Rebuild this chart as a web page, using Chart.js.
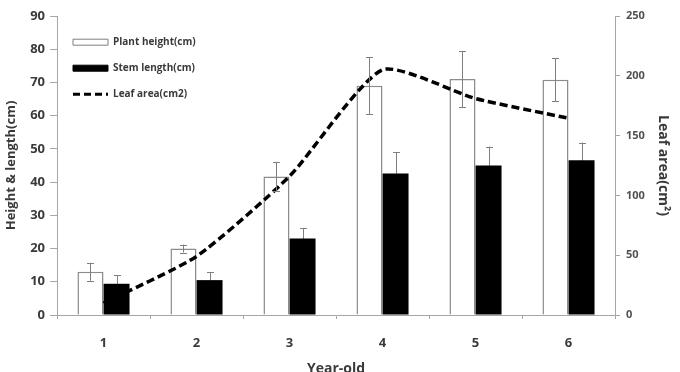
<!DOCTYPE html>
<html>
<head>
<meta charset="utf-8">
<script src="https://cdn.jsdelivr.net/npm/chart.js@4"></script>
<style>
  body { margin: 0; background: #fff; }
  #wrap { width: 680px; height: 372px; }
</style>
</head>
<body>
<div id="wrap"><canvas id="chart" width="680" height="372"></canvas></div>
<script>
const years = ['1', '2', '3', '4', '5', '6'];

const plantHeight = [13, 20, 41.7, 69, 71, 70.8];
const plantHeightErr = [2.7, 1.2, 4.4, 8.6, 8.5, 6.5];

const stemLength = [9.4, 10.5, 23, 42.6, 45, 46.6];
const stemLengthErr = [2.6, 2.3, 3.2, 6.4, 5.7, 5.3];

const leafArea = [10, 49, 116, 205, 181, 164.5];

const leftTicks = [0, 10, 20, 30, 40, 50, 60, 70, 80, 90];
const rightTicks = [0, 50, 100, 150, 200, 250];

const greyLine = '#a6a6a6';
const textColor = '#3a3a3a';
const fontFamily = "'Open Sans', 'Noto Sans', sans-serif";

// error bars: stem ones go behind the black bars, plant ones on top
function drawErrors(chart, dsIndex, errs) {
    const meta = chart.getDatasetMeta(dsIndex);
    const yScale = chart.scales.y;
    const ctx = chart.ctx;
    ctx.save();
    ctx.strokeStyle = '#7f7f7f';
    ctx.lineWidth = 1;
    meta.data.forEach((bar, i) => {
        const v = chart.data.datasets[dsIndex].data[i];
        const top = yScale.getPixelForValue(v + errs[i]);
        const bot = yScale.getPixelForValue(v - errs[i]);
        const x = Math.round(bar.x) + 0.5;
        ctx.beginPath();
        ctx.moveTo(x, top);
        ctx.lineTo(x, bot);
        ctx.moveTo(x - 3.5, Math.round(top) + 0.5);
        ctx.lineTo(x + 3.5, Math.round(top) + 0.5);
        ctx.moveTo(x - 3.5, Math.round(bot) + 0.5);
        ctx.lineTo(x + 3.5, Math.round(bot) + 0.5);
        ctx.stroke();
    });
    ctx.restore();
}

const errorBars = {
    id: 'errorBars',
    beforeDatasetsDraw(chart) {
        drawErrors(chart, 1, stemLengthErr);
    },
    afterDatasetsDraw(chart) {
        drawErrors(chart, 0, plantHeightErr);
    }
};

new Chart(document.getElementById('chart'), {
    type: 'bar',
    data: {
        labels: years,
        datasets: [
            {
                label: 'Plant height(cm)',
                data: plantHeight,
                backgroundColor: '#ffffff',
                borderColor: '#8c8c8c',
                borderWidth: 1.5,
                borderSkipped: 'bottom',
                categoryPercentage: 0.56,
                barPercentage: 1.0,
                yAxisID: 'y',
                order: 1
            },
            {
                label: 'Stem length(cm)',
                data: stemLength,
                backgroundColor: '#000000',
                borderColor: '#000000',
                borderWidth: 0,
                categoryPercentage: 0.56,
                barPercentage: 1.0,
                yAxisID: 'y',
                order: 1
            },
            {
                type: 'line',
                label: 'Leaf area(cm2)',
                data: leafArea,
                borderColor: '#000000',
                borderWidth: 3.5,
                borderDash: [8, 4],
                tension: 0.2,
                pointRadius: 0,
                fill: false,
                yAxisID: 'y2',
                order: 0
            }
        ]
    },
    options: {
        responsive: false,
        animation: false,
        layout: {
            padding: { top: 16, left: 0, right: 0, bottom: 0 }
        },
        plugins: {
            tooltip: { enabled: false },
            legend: {
                position: 'chartArea',
                align: 'start',
                title: {
                    display: true,
                    text: ' ',
                    font: { size: 1 },
                    padding: { top: 19, bottom: 1 }
                },
                labels: {
                    usePointStyle: true,
                    pointStyleWidth: 35,
                    boxHeight: 6,
                    padding: 16,
                    color: textColor,
                    font: { family: fontFamily, size: 10, weight: 'bold' },
                    generateLabels: function () {
                        return [
                            { text: 'Plant height(cm)', pointStyle: 'rect', fillStyle: '#ffffff', strokeStyle: '#7f7f7f', lineWidth: 1, fontColor: textColor },
                            { text: 'Stem length(cm)', pointStyle: 'rect', fillStyle: '#000000', strokeStyle: '#000000', lineWidth: 1, fontColor: textColor },
                            { text: 'Leaf area(cm2)', pointStyle: 'line', fillStyle: '#000000', strokeStyle: '#000000', lineWidth: 3, lineDash: [7, 4], fontColor: textColor }
                        ];
                    }
                }
            }
        },
        scales: {
            x: {
                offset: true,
                afterFit: function (s) { s.height = 57; },
                border: { display: true, color: greyLine, width: 1 },
                grid: { display: true, offset: true, drawOnChartArea: false, tickLength: 4, color: greyLine },
                ticks: {
                    padding: 16,
                    color: textColor,
                    font: { family: fontFamily, size: 13, weight: 'bold' }
                },
                title: {
                    display: true,
                    text: 'Year-old',
                    color: textColor,
                    padding: { top: 0, bottom: -5 },
                    font: { family: fontFamily, size: 14, weight: 'bold' }
                }
            },
            y: {
                position: 'left',
                min: 0,
                max: 90,
                afterFit: function (s) { s.width = 57; },
                afterBuildTicks: function (s) { s.ticks = leftTicks.map(v => ({ value: v })); },
                border: { display: true, color: greyLine, width: 1 },
                grid: { drawOnChartArea: false, tickLength: 7, color: greyLine },
                ticks: {
                    padding: 5,
                    color: textColor,
                    font: { family: fontFamily, size: 13, weight: 'bold' }
                },
                title: {
                    display: true,
                    text: 'Height & length(cm)',
                    color: textColor,
                    padding: { top: 3, bottom: 0 },
                    font: { family: fontFamily, size: 13, weight: 'bold' }
                }
            },
            y2: {
                position: 'right',
                min: 0,
                max: 250,
                afterFit: function (s) { s.width = 65; },
                afterBuildTicks: function (s) { s.ticks = rightTicks.map(v => ({ value: v })); },
                border: { display: true, color: greyLine, width: 1 },
                grid: { drawOnChartArea: false, tickLength: 5, color: greyLine },
                ticks: {
                    padding: 6,
                    color: '#505050',
                    font: { family: fontFamily, size: 11, weight: 'bold' }
                },
                title: {
                    display: true,
                    text: 'Leaf area(cm²)',
                    color: textColor,
                    padding: { top: 9, bottom: 0 },
                    font: { family: fontFamily, size: 14, weight: 'bold' }
                }
            }
        }
    },
    plugins: [errorBars]
});
</script>
</body>
</html>
